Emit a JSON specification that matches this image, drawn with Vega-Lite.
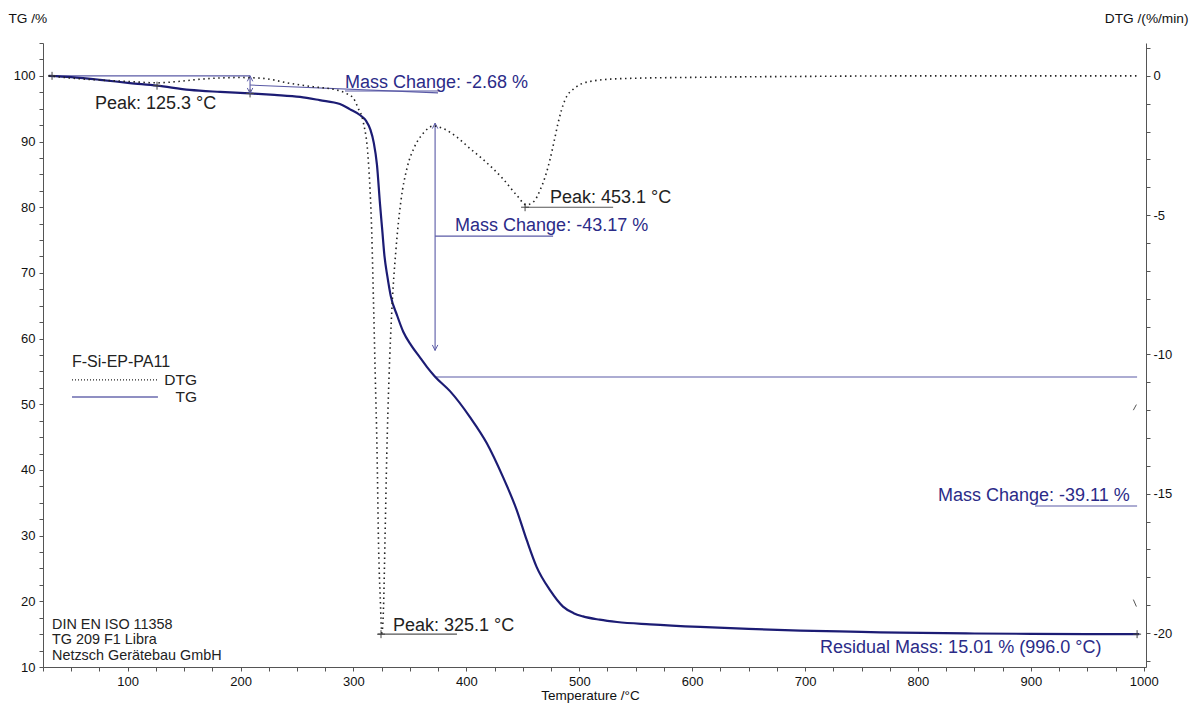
{
  "$schema": "https://vega.github.io/schema/vega-lite/v6.json",
  "width": 1103,
  "height": 624,
  "autosize": {"type": "none"},
  "padding": {"left": 43, "top": 43, "right": 51, "bottom": 38},
  "background": "white",
  "config": {
    "view": {"stroke": null},
    "font": "Liberation Sans",
    "axis": {
      "domainColor": "#555",
      "tickColor": "#555",
      "labelColor": "#111",
      "labelFont": "Liberation Sans",
      "labelFontSize": 13,
      "titleFont": "Liberation Sans",
      "titleFontWeight": "normal",
      "titleColor": "#111",
      "grid": false,
      "tickSize": 4,
      "labelOverlap": false
    }
  },
  "datasets": {
    "tgCurve": [
      {"temp": 30, "tg": 100.0}, {"temp": 50, "tg": 99.8}, {"temp": 75.5, "tg": 99.4}, {"temp": 102, "tg": 98.9},
      {"temp": 126, "tg": 98.5}, {"temp": 155, "tg": 97.85}, {"temp": 182, "tg": 97.55}, {"temp": 208, "tg": 97.32},
      {"temp": 230, "tg": 97.1}, {"temp": 252.7, "tg": 96.8}, {"temp": 270, "tg": 96.3}, {"temp": 288, "tg": 95.7},
      {"temp": 297, "tg": 94.9}, {"temp": 306, "tg": 94.0}, {"temp": 311, "tg": 93.2}, {"temp": 315, "tg": 91.8},
      {"temp": 318, "tg": 89.8}, {"temp": 320.8, "tg": 86.5}, {"temp": 323.5, "tg": 80.5}, {"temp": 325.5, "tg": 76.5},
      {"temp": 327.5, "tg": 72.5}, {"temp": 330, "tg": 69.5}, {"temp": 333, "tg": 66.5}, {"temp": 338.7, "tg": 63.5},
      {"temp": 344.2, "tg": 61.0}, {"temp": 351, "tg": 59.0}, {"temp": 359, "tg": 57.1}, {"temp": 365, "tg": 55.7},
      {"temp": 372.3, "tg": 54.2}, {"temp": 385.5, "tg": 52.0}, {"temp": 403.2, "tg": 48.05}, {"temp": 418, "tg": 44.1},
      {"temp": 432.5, "tg": 38.9}, {"temp": 444.6, "tg": 33.9}, {"temp": 453.5, "tg": 29.3}, {"temp": 462.3, "tg": 25.2},
      {"temp": 474.1, "tg": 21.7}, {"temp": 485.6, "tg": 19.2}, {"temp": 495, "tg": 18.2}, {"temp": 503.3, "tg": 17.7},
      {"temp": 518, "tg": 17.2}, {"temp": 533.5, "tg": 16.85}, {"temp": 562.7, "tg": 16.5}, {"temp": 607, "tg": 16.1},
      {"temp": 650, "tg": 15.8}, {"temp": 695.6, "tg": 15.55}, {"temp": 750, "tg": 15.35}, {"temp": 784, "tg": 15.22},
      {"temp": 850, "tg": 15.1}, {"temp": 900, "tg": 15.05}, {"temp": 950, "tg": 15.02}, {"temp": 996, "tg": 15.01}
    ],
    "dtgCurve": [
      {"temp": 30, "dtg": 0}, {"temp": 50, "dtg": -0.08}, {"temp": 75.5, "dtg": -0.15}, {"temp": 100, "dtg": -0.2},
      {"temp": 126, "dtg": -0.25}, {"temp": 145, "dtg": -0.2}, {"temp": 164, "dtg": -0.12}, {"temp": 199.5, "dtg": -0.06},
      {"temp": 220, "dtg": -0.09}, {"temp": 243.8, "dtg": -0.27}, {"temp": 264.2, "dtg": -0.39}, {"temp": 285.4, "dtg": -0.51},
      {"temp": 293, "dtg": -0.62}, {"temp": 299.9, "dtg": -0.8}, {"temp": 304, "dtg": -1.15}, {"temp": 308.7, "dtg": -1.66},
      {"temp": 313.2, "dtg": -3.07}, {"temp": 316.2, "dtg": -5.64}, {"temp": 317.8, "dtg": -8.2}, {"temp": 319.3, "dtg": -10.77},
      {"temp": 320.8, "dtg": -13.3}, {"temp": 322.3, "dtg": -17.0}, {"temp": 323.7, "dtg": -18.7}, {"temp": 325.1, "dtg": -20.0},
      {"temp": 326.6, "dtg": -19.1}, {"temp": 328, "dtg": -16.5}, {"temp": 329.5, "dtg": -13.6}, {"temp": 331.5, "dtg": -10.8},
      {"temp": 334, "dtg": -8.4}, {"temp": 337.5, "dtg": -6.3}, {"temp": 342, "dtg": -4.5}, {"temp": 347.5, "dtg": -3.3},
      {"temp": 353.5, "dtg": -2.6}, {"temp": 362, "dtg": -2.05}, {"temp": 370.8, "dtg": -1.8}, {"temp": 380, "dtg": -1.9},
      {"temp": 391.7, "dtg": -2.2}, {"temp": 403, "dtg": -2.6}, {"temp": 414.8, "dtg": -3.0}, {"temp": 432.5, "dtg": -3.7},
      {"temp": 444.9, "dtg": -4.3}, {"temp": 453.1, "dtg": -4.63}, {"temp": 460, "dtg": -4.5}, {"temp": 465.3, "dtg": -4.1},
      {"temp": 470, "dtg": -3.6}, {"temp": 474.1, "dtg": -3.0}, {"temp": 478, "dtg": -2.3}, {"temp": 481.2, "dtg": -1.7},
      {"temp": 487.4, "dtg": -0.86}, {"temp": 496.3, "dtg": -0.43}, {"temp": 509.5, "dtg": -0.2}, {"temp": 536, "dtg": -0.1},
      {"temp": 607, "dtg": -0.05}, {"temp": 695.6, "dtg": -0.02}, {"temp": 800, "dtg": 0}, {"temp": 996, "dtg": 0}
    ],
    "dtgTail": [
      {"temp": 990.8, "dtg": -12.0, "temp2": 993.5, "dtg2": -11.8},
      {"temp": 990.8, "dtg": -18.8, "temp2": 993.5, "dtg2": -19.05}
    ],
    "blueRules": [
      {"temp": 33, "tg": 100, "temp2": 208.4, "tg2": 100},
      {"temp": 208.4, "tg": 100, "temp2": 208.4, "tg2": 97.32},
      {"temp": 208.4, "tg": 98.6, "temp2": 374.9, "tg2": 97.4},
      {"temp": 292.5, "tg": 97.7, "temp2": 376.7, "tg2": 97.7},
      {"temp": 372.3, "tg": 92.8, "temp2": 372.3, "tg2": 58.2},
      {"temp": 372.3, "tg": 75.6, "temp2": 476.8, "tg2": 75.6},
      {"temp": 372.3, "tg": 54.15, "temp2": 994.1, "tg2": 54.15},
      {"temp": 903.7, "tg": 34.5, "temp2": 994.1, "tg2": 34.5}
    ],
    "grayRules": [
      {"temp": 321.7, "tg": 15.0, "temp2": 391.7, "tg2": 15.0},
      {"temp": 452, "tg": 80.0, "temp2": 530, "tg2": 80.0}
    ],
    "crosses": [
      {"temp": 33, "tg": 100},
      {"temp": 126, "tg": 98.5},
      {"temp": 208.4, "tg": 97.32},
      {"temp": 324.4, "tg": 15.0},
      {"temp": 452, "tg": 80.0},
      {"temp": 994.1, "tg": 15.0}
    ],
    "arrowUp": [
      {"temp": 372.3, "tg": 92.8},
      {"temp": 208.4, "tg": 100}
    ],
    "arrowDown": [
      {"temp": 372.3, "tg": 58.2},
      {"temp": 208.4, "tg": 97.32}
    ],
    "legendDot": [
      {"temp": 50.7, "tg": 53.7, "temp2": 126.8, "tg2": 53.7}
    ],
    "legendSolid": [
      {"temp": 50.7, "tg": 51.1, "temp2": 126.8, "tg2": 51.1}
    ],
    "blueTexts": [
      {"temp": 292.5, "tg": 98.9, "label": "Mass Change: -2.68 %"},
      {"temp": 390.0, "tg": 77.1, "label": "Mass Change: -43.17 %"},
      {"temp": 817.8, "tg": 36.0, "label": "Mass Change: -39.11 %"},
      {"temp": 713.3, "tg": 12.9, "label": "Residual Mass: 15.01 % (996.0 °C)"}
    ],
    "peakTexts": [
      {"temp": 71.1, "tg": 95.7, "label": "Peak: 125.3 °C"},
      {"temp": 474.1, "tg": 81.4, "label": "Peak: 453.1 °C"},
      {"temp": 335.0, "tg": 16.2, "label": "Peak: 325.1 °C"}
    ],
    "footerTexts": [
      {"temp": 33, "tg": 16.4, "label": "DIN EN ISO 11358"},
      {"temp": 33, "tg": 14.1, "label": "TG 209 F1 Libra"},
      {"temp": 33, "tg": 11.7, "label": "Netzsch Gerätebau GmbH"}
    ],
    "legendTitle": [
      {"temp": 50.7, "tg": 56.4, "label": "F-Si-EP-PA11"}
    ],
    "legendLabels": [
      {"temp": 161.4, "tg": 53.7, "label": "DTG"},
      {"temp": 161.4, "tg": 51.1, "label": "TG"}
    ]
  },
  "layer": [
    {
      "encoding": {
        "x": {
          "field": "temp", "type": "quantitative",
          "scale": {"domain": [25, 1002], "nice": false, "zero": false},
          "axis": {
            "values": [25,50,75,100,125,150,175,200,225,250,275,300,325,350,375,400,425,450,475,500,525,550,575,600,625,650,675,700,725,750,775,800,825,850,875,900,925,950,975,1000],
            "labelExpr": "datum.value % 100 === 0 ? '' + datum.value : ''",
            "labelPadding": 4,
            "title": "Temperature /°C",
            "titleFontSize": 13.5,
            "titleX": 547, "titleY": 28, "titleAlign": "center", "titleBaseline": "middle"
          }
        },
        "y": {
          "field": "tg", "type": "quantitative",
          "scale": {"domain": [10, 105], "nice": false, "zero": false},
          "axis": {
            "orient": "left",
            "values": [10,12.5,15,17.5,20,22.5,25,27.5,30,32.5,35,37.5,40,42.5,45,47.5,50,52.5,55,57.5,60,62.5,65,67.5,70,72.5,75,77.5,80,82.5,85,87.5,90,92.5,95,97.5,100,102.5,105],
            "labelExpr": "datum.value % 10 === 0 ? '' + datum.value : ''",
            "labelPadding": 4,
            "title": "TG /%",
            "titleFontSize": 13.7,
            "titleAngle": 0,
            "titleX": -35, "titleY": -25, "titleAlign": "left", "titleBaseline": "middle"
          }
        }
      },
      "layer": [
        {
          "data": {"name": "blueRules"},
          "mark": {"type": "rule", "color": "#5a5aa6", "strokeWidth": 1.1},
          "encoding": {"x2": {"field": "temp2"}, "y2": {"field": "tg2"}}
        },
        {
          "data": {"name": "grayRules"},
          "mark": {"type": "rule", "color": "#555555", "strokeWidth": 1.1},
          "encoding": {"x2": {"field": "temp2"}, "y2": {"field": "tg2"}}
        },
        {
          "data": {"name": "legendDot"},
          "mark": {"type": "rule", "color": "#222222", "strokeWidth": 1.2, "strokeDash": [1, 2]},
          "encoding": {"x2": {"field": "temp2"}, "y2": {"field": "tg2"}}
        },
        {
          "data": {"name": "legendSolid"},
          "mark": {"type": "rule", "color": "#6a6aae", "strokeWidth": 1.4},
          "encoding": {"x2": {"field": "temp2"}, "y2": {"field": "tg2"}}
        },
        {
          "data": {"name": "tgCurve"},
          "mark": {"type": "line", "color": "#1c1c74", "strokeWidth": 2.2, "interpolate": "monotone"}
        },
        {
          "data": {"name": "crosses"},
          "mark": {"type": "point", "shape": "M-1,0L1,0M0,-1L0,1", "filled": false, "stroke": "#444", "strokeWidth": 1, "size": 64, "opacity": 1}
        },
        {
          "data": {"name": "arrowUp"},
          "mark": {"type": "point", "shape": "M-1,2L0,0L1,2", "filled": false, "stroke": "#5a5aa6", "strokeWidth": 1, "size": 30, "opacity": 1}
        },
        {
          "data": {"name": "arrowDown"},
          "mark": {"type": "point", "shape": "M-1,-2L0,0L1,-2", "filled": false, "stroke": "#5a5aa6", "strokeWidth": 1, "size": 30, "opacity": 1}
        },
        {
          "data": {"name": "blueTexts"},
          "mark": {"type": "text", "align": "left", "baseline": "middle", "fontSize": 18, "color": "#2b2b88", "font": "Liberation Sans"},
          "encoding": {"text": {"field": "label"}}
        },
        {
          "data": {"name": "peakTexts"},
          "mark": {"type": "text", "align": "left", "baseline": "middle", "fontSize": 18, "color": "#222222", "font": "Liberation Sans"},
          "encoding": {"text": {"field": "label"}}
        },
        {
          "data": {"name": "footerTexts"},
          "mark": {"type": "text", "align": "left", "baseline": "middle", "fontSize": 14.4, "color": "#222222", "font": "Liberation Sans"},
          "encoding": {"text": {"field": "label"}}
        },
        {
          "data": {"name": "legendTitle"},
          "mark": {"type": "text", "align": "left", "baseline": "middle", "fontSize": 16, "color": "#222222", "font": "Liberation Sans"},
          "encoding": {"text": {"field": "label"}}
        },
        {
          "data": {"name": "legendLabels"},
          "mark": {"type": "text", "align": "right", "baseline": "middle", "fontSize": 15.5, "color": "#222222", "font": "Liberation Sans"},
          "encoding": {"text": {"field": "label"}}
        }
      ]
    },
    {
      "encoding": {
        "x": {
          "field": "temp", "type": "quantitative",
          "scale": {"domain": [25, 1002], "nice": false, "zero": false},
          "axis": {
            "values": [25,50,75,100,125,150,175,200,225,250,275,300,325,350,375,400,425,450,475,500,525,550,575,600,625,650,675,700,725,750,775,800,825,850,875,900,925,950,975,1000],
            "labelExpr": "datum.value % 100 === 0 ? '' + datum.value : ''",
            "labelPadding": 4,
            "title": "Temperature /°C",
            "titleFontSize": 13.5,
            "titleX": 547, "titleY": 28, "titleAlign": "center", "titleBaseline": "middle"
          }
        },
        "y": {
          "field": "dtg", "type": "quantitative",
          "scale": {"domain": [-21.22, 1.18], "nice": false, "zero": false},
          "axis": {
            "orient": "right",
            "values": [-21,-20,-19,-18,-17,-16,-15,-14,-13,-12,-11,-10,-9,-8,-7,-6,-5,-4,-3,-2,-1,0,1],
            "labelExpr": "datum.value % 5 === 0 ? '' + datum.value : ''",
            "labelPadding": 3,
            "title": "DTG /(%/min)",
            "titleFontSize": 13.7,
            "titleAngle": 0,
            "titleX": 42, "titleY": -25, "titleAlign": "right", "titleBaseline": "middle"
          }
        }
      },
      "layer": [
        {
          "data": {"name": "dtgCurve"},
          "mark": {"type": "line", "color": "#222222", "strokeWidth": 1.6, "strokeDash": [1.5, 3.5], "interpolate": "monotone"}
        },
        {
          "data": {"name": "dtgTail"},
          "mark": {"type": "rule", "color": "#555555", "strokeWidth": 1},
          "encoding": {"x2": {"field": "temp2"}, "y2": {"field": "dtg2"}}
        }
      ]
    }
  ],
  "resolve": {"scale": {"y": "independent"}, "axis": {"y": "independent"}}
}
